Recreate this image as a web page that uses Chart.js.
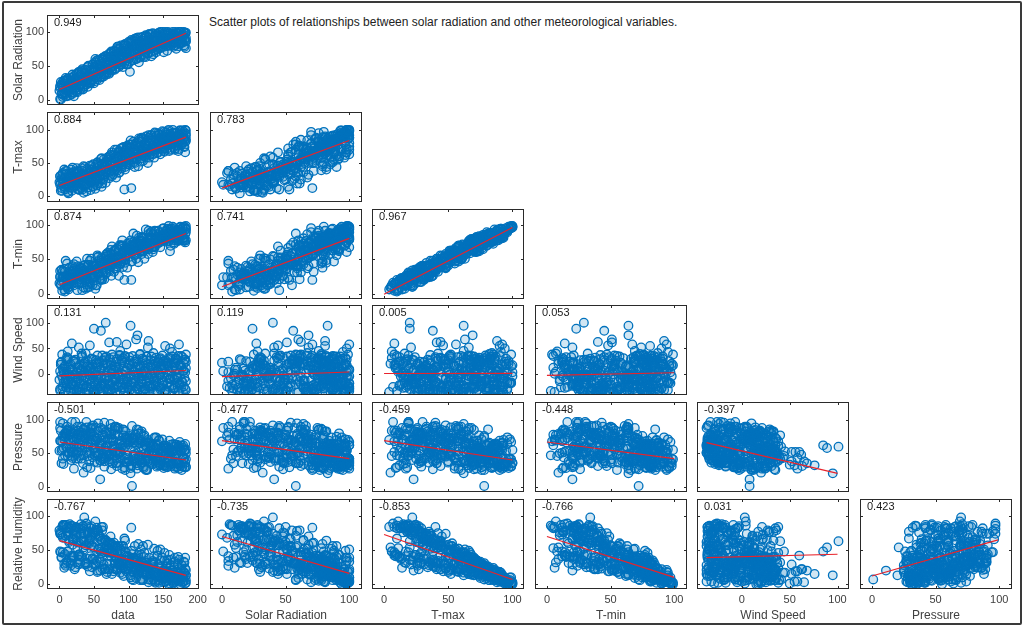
<!DOCTYPE html>
<html>
<head>
<meta charset="utf-8">
<script src="https://cdn.jsdelivr.net/npm/chart.js@4.4.0/dist/chart.umd.min.js"></script>
<style>
  body { margin: 0; background: #fff; width: 1024px; height: 628px; overflow: hidden; position: relative; font-family: "Liberation Sans", Arial, sans-serif; }
  #frame { position: absolute; left: 2px; top: 1px; width: 1020px; height: 624px; box-sizing: border-box; border: 2px solid #3a3a3a; border-radius: 2px; }
  #title { position: absolute; left: 209px; top: 15px; font-size: 12px; color: #222; white-space: nowrap; }
  canvas { position: absolute; }
</style>
</head>
<body>
<div id="frame"></div>
<div id="title">Scatter plots of relationships between solar radiation and other meteorological variables.</div>
<div id="panels"></div>
<script>
// observations (one value per observation, same order in every array)
const obsData = [
  0,1,1,2,3,4,5,5,6,7, 8,8,9,10,11,11,12,13,14,15, 15,16,17,18,18,19,20,21,21,22,
  23,24,25,25,26,27,28,28,29,30, 31,31,32,33,34,35,35,36,37,38, 38,39,40,41,41,42,43,44,45,45,
  46,47,48,48,49,50,51,52,52,53, 54,55,55,56,57,58,58,59,60,61, 61,62,63,64,65,65,66,67,68,68,
  69,70,71,72,72,73,74,75,75,76, 77,78,78,79,80,81,82,82,83,84, 85,85,86,87,88,88,89,90,91,92,
  92,93,94,95,95,96,97,98,98,99, 100,101,102,102,103,104,105,105,106,107, 108,109,109,110,111,112,112,113,114,115,
  115,116,117,118,119,119,120,121,122,122, 123,124,125,126,126,127,128,129,129,130, 131,132,132,133,134,135,136,136,137,138,
  139,139,140,141,142,142,143,144,145,146, 146,147,148,149,149,150,151,152,152,153, 154,155,156,156,157,158,159,159,160,161,
  162,163,163,164,165,166,166,167,168,169, 169,170,171,172,173,173,174,175,176,176, 177,178,179,180,180,181,182,183,183,183,
  2,4,6,9,11,13,16,18,20,23, 25,27,30,32,34,37,39,41,44,46, 48,51,53,55,58,60,62,65,67,69,
  72,74,76,79,81,83,86,88,90,93, 95,97,100,102,104,107,109,111,114,116, 118,121,123,125,128,130,132,135,137,139,
  142,144,146,149,151,153,156,158,160,163, 165,167,170,172,174,177,179,181,182,183,
  1,3,5,7,10,12,14,17,19,21, 24,26,28,31,33,35,38,40,42,45, 47,49,52,54,56,59,61,63,66,68,
  70,73,75,77,80,82,84,87,89,91, 94,96,98,101,103,105,108,110,112,115, 117,119,122,124,126,129,131,133,136,138,
  140,143,145,147,150,152,154,157,159,161, 164,166,168,171,173,175,178,180,182,183, 20,35,50,65,80,95,110,125,140,155,
  12,28,44,60,76,92,108,124,150,170
]
const solarRadiation = [
  13,1,20,0,9,25,4,17,28,10, 24,8,32,15,18,5,28,21,12,6, 15,32,21,8,27,37,18,24,5,29,
  31,17,38,23,11,28,41,20,33,15, 23,37,43,27,15,32,19,40,26,34, 39,23,30,49,19,36,28,44,33,25,
  28,44,35,52,40,24,48,33,43,57, 51,33,46,59,38,29,48,41,56,37, 42,59,50,34,54,45,64,40,51,37,
  59,45,67,51,40,56,64,48,71,43, 49,63,54,71,44,59,67,52,62,78, 68,54,75,59,51,65,80,57,72,48,
  61,76,53,68,82,58,71,64,79,52, 75,61,67,41,83,71,58,79,66,87, 67,81,71,86,60,76,91,68,79,55,
  82,71,78,92,66,81,73,87,63,79, 74,87,63,82,93,77,68,89,81,97, 87,76,83,64,97,79,91,67,86,78,
  79,90,70,87,97,82,76,94,86,100, 92,83,89,78,100,86,70,96,88,81, 84,95,89,72,100,87,92,81,98,85,
  93,82,90,100,78,88,96,85,100,75, 86,97,91,79,100,89,83,94,100,87, 95,84,92,100,80,90,98,87,76,99,
  26,9,21,5,30,14,27,11,33,17, 12,38,20,41,16,44,22,48,26,29, 52,27,55,30,58,34,61,37,64,40,
  38,68,44,72,46,75,48,76,52,80, 82,52,85,56,88,58,90,60,92,62, 64,93,66,95,68,96,70,98,72,97,
  74,99,76,97,78,100,79,98,80,95, 97,80,99,82,100,84,96,78,98,86,
  18,22,7,28,13,31,16,24,10,35, 30,14,40,22,45,19,36,27,50,24, 45,30,60,36,51,42,33,62,48,55,
  62,45,70,50,66,58,78,54,72,60, 72,80,61,76,85,66,79,70,88,74, 86,74,90,70,84,92,78,88,82,94,
  90,80,95,86,92,82,98,88,84,97, 92,86,95,89,97,84,93,99,88,91, 26,30,44,55,62,71,74,84,86,89,
  14,18,35,47,58,65,73,80,85,92
]
const tMax = [
  21,17,30,21,27,8,35,19,24,14, 28,10,33,17,24,38,6,22,30,15, 13,26,40,19,8,31,23,36,17,27,
  34,16,25,42,11,29,21,37,9,26, 19,31,12,38,27,5,33,22,44,16, 30,18,41,24,13,35,28,46,21,9,
  24,40,15,33,48,20,29,11,37,26, 42,27,51,19,36,31,45,23,38,14, 33,48,25,55,40,29,44,20,52,37,
  50,35,58,41,27,47,62,38,53,30, 41,57,33,63,46,52,28,60,44,39, 60,45,68,36,55,50,72,42,58,48,
  52,66,10,61,44,70,56,75,48,63, 68,54,73,47,62,12,78,58,65,51, 59,72,50,76,63,81,55,69,45,67,
  75,61,82,57,70,64,86,53,73,66, 64,79,58,84,70,76,50,68,88,62, 80,67,86,71,92,63,77,84,58,74,
  70,85,74,91,66,80,95,72,83,63, 88,75,92,79,70,85,97,81,67,90, 78,93,86,72,98,83,89,68,94,80,
  91,79,87,100,74,85,95,70,88,82, 83,96,77,89,92,71,86,99,80,90, 94,80,88,75,97,85,66,91,83,99,
  8,33,15,38,24,4,29,12,36,19, 35,10,28,42,17,31,7,39,22,45, 14,44,23,50,30,56,19,48,36,58,
  60,32,66,38,52,70,35,62,45,74, 40,72,48,78,55,82,44,75,60,85, 52,86,60,90,66,58,92,71,64,95,
  65,93,72,98,68,88,76,100,70,91, 96,72,90,68,99,78,93,74,100,86,
  30,12,25,40,17,6,34,22,43,27, 15,38,20,33,10,45,26,18,36,29, 40,22,35,16,48,30,57,25,44,52,
  55,38,62,48,70,41,58,66,50,73, 68,50,76,62,84,56,71,79,64,87, 73,88,62,80,67,92,76,84,70,96,
  85,74,93,80,88,72,96,82,90,78, 88,80,95,76,92,84,99,87,82,94, 25,32,38,50,58,60,66,72,78,81,
  18,24,30,40,52,57,64,70,84,88
]
const tMin = [
  15,24,33,12,35,4,24,24,25,6, 32,3,23,26,21,44,8,10,38,14, 22,24,32,23,14,20,24,43,12,37,
  31,24,16,47,5,40,20,25,16,28, 25,21,15,33,36,9,26,34,42,7, 22,23,51,21,9,42,17,48,30,15,
  35,34,13,41,39,23,35,7,25,31, 37,36,53,31,29,21,49,20,45,20, 40,37,35,51,43,21,43,29,57,31,
  41,41,55,51,35,42,64,26,57,41, 44,49,45,57,53,50,37,50,40,44, 53,55,64,42,44,53,71,50,70,39,
  60,63,20,52,49,64,67,73,38,67, 64,63,63,54,64,20,72,47,70,63, 69,65,56,73,51,85,64,64,46,59,
  73,72,73,62,77,58,82,63,62,69, 70,74,70,76,72,66,58,65,92,71, 71,74,82,81,91,68,65,87,69,68,
  79,79,78,81,77,78,92,79,75,68, 83,83,81,82,80,78,96,87,79,81, 85,84,88,83,95,77,94,77,90,70,
  83,85,91,98,84,73,96,78,83,89, 88,92,86,78,94,79,79,98,90,84, 91,87,78,81,98,77,75,95,78,99,
  14,24,18,48,19,6,17,20,33,30, 28,14,39,32,22,29,16,42,10,51, 23,40,12,56,40,48,21,43,48,55,
  50,40,69,32,63,66,26,69,47,62, 45,61,58,75,47,88,56,69,64,76, 63,81,51,94,74,70,90,61,70,91,
  73,86,77,95,80,79,82,99,62,95, 90,82,86,77,97,85,82,79,97,94,
  25,18,33,36,11,12,29,28,40,34, 21,31,26,37,5,41,32,13,42,24, 35,29,40,12,54,26,52,31,38,58,
  60,33,58,53,64,46,52,71,44,78, 63,55,71,68,78,61,76,74,69,82, 78,83,67,75,72,87,81,79,75,92,
  80,79,89,85,84,77,92,87,86,83, 93,75,91,81,88,89,96,82,87,90, 30,27,43,45,63,55,71,67,83,76,
  13,29,25,45,47,62,59,75,79,93
]
const windSpeed = [
  -12,5,-30,22,-3,38,-25,10,-18,0, 15,-34,-8,27,-20,3,44,-15,8,-28, -5,19,-36,-22,60,-10,6,-31,24,-1,
  28,-17,2,-33,12,-26,52,-9,17,-35, -21,9,33,-4,-29,20,-14,3,-37,40, 7,-24,14,-11,25,-32,-2,56,-19,11,
  -27,30,-7,18,-35,89,-16,4,-23,21, 13,-30,36,-12,-2,23,-36,8,85,-20, -9,26,-33,16,-19,5,-28,101,34,-4,
  20,-14,-35,62,-6,29,-24,10,-31,2, -17,33,6,-29,15,-37,24,-8,63,-22, 9,-26,-3,37,-34,18,-12,27,-1,-30,
  31,-10,22,-36,4,-21,58,-15,12,-27, -6,17,-32,26,95,-24,8,-18,35,-2, 24,-35,3,-13,68,-29,14,76,-8,19,
  -20,11,39,-26,1,-11,30,-33,16,-5, 6,-31,21,-16,34,-3,-25,12,65,-36, -13,27,-1,-28,18,7,-21,41,-9,25,
  14,-23,32,-7,-34,22,3,-17,29,-30, -2,19,-27,36,9,-14,25,-35,13,55, 26,-8,-33,16,-19,31,4,-26,50,-11,
  -24,12,34,-5,23,-30,17,-12,7,30, 10,-18,27,-36,58,2,-22,15,-28,35, -15,33,5,-25,20,-9,28,-32,11,38,
  18,-29,4,-14,33,-36,9,-22,26,-7, -32,12,-19,40,-3,23,-26,6,-11,30, 2,-35,27,-16,11,-24,36,-8,21,-30,
  -21,16,-37,8,-12,29,-4,45,-27,14, 33,-9,-28,19,-17,5,-33,24,-1,38, -14,27,-30,10,52,-23,15,-6,-36,20,
  7,-25,31,-18,24,-34,-2,17,-10,43, -29,21,-8,35,-19,12,-37,28,3,-15,
  -33,24,-9,14,-27,31,-2,-18,8,-36, 21,-12,-30,5,35,-24,-6,17,-35,11, -15,28,-37,-4,19,-29,9,-20,32,-8,
  3,-34,22,-11,-26,13,-1,36,-22,26, -28,7,-16,33,-5,-36,20,-13,29,-31, 16,-19,4,-35,27,-7,-25,34,-14,0,
  -37,25,-3,15,-23,9,-32,21,-10,31, 12,-27,30,-9,-34,18,-17,6,-30,24, -20,14,-32,27,-6,35,-25,3,-15,20,
  29,-36,11,-24,38,-13,-3,-29,17,-7
]
const pressure = [
  54,88,69,68,35,68,76,95,58,71, 80,47,75,59,59,90,46,50,77,71, 58,82,57,97,52,43,74,71,27,80,
  83,49,73,60,78,42,52,59,81,71, 47,75,81,54,76,21,87,70,60,77, 73,52,89,60,79,63,38,52,87,28,
  66,81,44,71,92,58,37,69,57,88, 73,46,72,95,48,60,64,11,62,65, 43,77,78,41,96,30,82,60,54,53,
  79,51,48,48,81,46,94,26,70,72, 35,68,70,61,79,51,53,90,31,51, 76,49,88,50,43,64,59,67,27,74,
  57,85,29,59,83,36,43,47,72,66, 41,74,69,67,20,32,1,72,73,48, 72,46,66,49,35,86,27,32,85,43,
  46,71,46,36,68,83,37,60,57,28, 66,39,68,61,26,25,70,50,38,53, 42,60,62,34,47,64,38,60,47,50,
  58,39,58,30,64,43,37,69,35,39, 32,57,55,54,32,61,28,61,57,32, 50,30,58,57,42,55,53,38,33,63,
  34,51,55,35,54,60,30,63,37,36, 49,35,54,59,27,57,35,31,62,53, 35,46,58,42,42,29,54,56,29,41,
  84,56,34,81,83,70,78,46,59,97, 52,84,78,42,35,73,97,46,71,75, 88,47,69,36,66,88,46,45,81,60,
  37,66,88,39,89,42,36,53,69,77, 66,37,64,76,31,66,70,35,80,39, 80,30,77,25,38,53,65,34,73,42,
  32,70,41,71,31,62,29,55,47,43, 64,27,29,36,67,25,62,55,36,50,
  97,54,42,75,79,84,52,40,81,68, 42,90,69,90,62,47,80,29,76,79, 91,58,51,51,84,39,69,86,44,46,
  72,41,78,56,85,35,87,52,52,61, 42,74,71,38,28,91,52,42,63,65, 65,40,75,50,46,66,36,48,50,74,
  63,56,33,51,45,59,36,44,69,31, 53,45,54,34,61,54,30,43,64,30, 52,85,76,38,90,25,78,41,74,49,
  86,65,81,39,61,86,38,62,49,63
]
const relHumidity = [
  79,48,76,73,39,84,68,47,87,24, 44,86,71,31,82,34,48,72,62,88, 82,27,84,86,42,66,40,74,41,22,
  25,83,62,75,53,82,29,61,44,81, 88,41,40,66,85,54,74,98,62,32, 57,85,30,75,37,77,60,19,82,41,
  85,25,76,37,74,54,76,92,71,30, 34,80,20,78,52,37,70,20,48,84, 64,23,84,29,66,47,64,63,15,56,
  30,62,52,22,61,30,47,48,60,57, 58,19,55,46,34,56,39,38,22,53, 29,56,30,31,52,30,28,31,35,56,
  24,32,67,47,42,30,19,26,40,41, 28,28,33,28,13,83,7,38,18,39, 22,35,38,23,20,24,32,15,59,22,
  30,27,6,43,24,33,6,56,15,30, 26,26,27,18,13,21,58,24,3,39, 23,17,16,31,5,29,25,7,52,14,
  17,17,14,11,49,12,5,26,10,51, 12,16,12,9,39,16,3,22,46,4, 12,9,18,35,6,10,9,43,1,20,
  13,14,6,3,32,17,3,39,10,11, 13,7,15,12,4,36,16,0,22,6, 10,12,10,33,4,16,39,13,13,2,
  47,71,86,27,77,84,31,40,65,81, 72,43,31,63,85,29,89,26,76,56, 38,62,79,18,71,51,79,23,65,18,
  46,70,15,61,22,37,33,17,56,12, 64,35,23,31,49,6,56,9,43,24, 51,6,46,18,15,22,14,34,41,2,
  42,2,35,10,14,19,30,0,36,17, 1,33,18,40,10,28,4,32,1,21,
  74,40,87,30,87,48,64,35,58,78, 84,32,36,74,82,51,30,77,62,69, 57,76,28,83,51,66,45,43,22,49,
  47,60,40,23,30,54,21,37,50,15, 36,48,27,40,10,44,17,25,38,18, 32,8,40,25,32,7,15,22,32,4,
  21,29,6,25,8,35,4,12,15,28, 8,25,5,30,12,19,2,18,23,6, 67,64,36,50,42,22,35,32,14,26,
  77,43,66,33,46,24,38,17,20,7
]

const varNames = ["data", "Solar Radiation", "T-max", "T-min", "Wind Speed", "Pressure", "Relative Humidity"]

// correlation shown in each panel, rows top to bottom
const corrLabels = [
  ["0.949"],
  ["0.884", "0.783"],
  ["0.874", "0.741", "0.967"],
  ["0.131", "0.119", "0.005", "0.053"],
  ["-0.501", "-0.477", "-0.459", "-0.448", "-0.397"],
  ["-0.767", "-0.735", "-0.853", "-0.766", "0.031", "0.423"]
]

// least-squares line ends: [x0, y0, x1, y1]
const fitLines = [
  [[0, 15, 183, 98]],
  [[0, 16, 183, 89], [0, 12, 100, 84]],
  [[0, 13, 183, 88], [0, 10, 100, 81], [0, -1, 100, 97]],
  [[0, -4, 183, 6.5], [0, -5.5, 100, 3.5], [0, 0.5, 100, 0.8], [0, -3, 100, 2]],
  [[0, 67, 183, 40], [0, 69, 100, 42], [0, 69, 100, 40], [0, 67, 100, 42], [-37, 66, 100, 20]],
  [[0, 64, 183, 13], [0, 70, 100, 16], [0, 73, 100, 7], [0, 70, 100, 10], [-37, 39, 100, 44], [0, 12, 99, 65]]
]

// axis limits per variable
const xLimits = [[-18, 202], [-9.4, 110], [-9.4, 109], [-9.4, 110], [-47, 112], [-9.4, 110]]
const yLimits = [null, [-8, 125], [-9, 127], [-8, 124], [-42, 136], [-8, 127], [-7, 125]]
const dataTicks = [0, 50, 100, 150, 200]
const valueTicks = [0, 50, 100]

const series = [obsData, solarRadiation, tMax, tMin, windSpeed, pressure, relHumidity]

const PAD_L = 47, PAD_R = 16, PAD_T = 12, PAD_B = 40
const BOX_W = 152, BOX_H = 90
const INK = "#404040"

Chart.defaults.font.family = '"Liberation Sans", Arial, sans-serif'

// box, inward tick marks and the correlation value
const panelBox = {
  id: "panelBox",
  afterDraw(chart, args, opts) {
    const { ctx, chartArea: a, scales } = chart
    ctx.save()
    ctx.strokeStyle = "#2a2a2a"
    ctx.lineWidth = 1
    ctx.strokeRect(a.left + 0.5, a.top + 0.5, a.width - 1, a.height - 1)
    ctx.beginPath()
    scales.x.ticks.forEach(t => {
      const px = Math.round(scales.x.getPixelForValue(t.value)) + 0.5
      if (px <= a.left + 1 || px >= a.right - 1) return
      ctx.moveTo(px, a.bottom); ctx.lineTo(px, a.bottom - 3)
      ctx.moveTo(px, a.top); ctx.lineTo(px, a.top + 3)
    })
    scales.y.ticks.forEach(t => {
      const py = Math.round(scales.y.getPixelForValue(t.value)) + 0.5
      ctx.moveTo(a.left, py); ctx.lineTo(a.left + 3, py)
      ctx.moveTo(a.right, py); ctx.lineTo(a.right - 3, py)
    })
    ctx.stroke()
    ctx.fillStyle = "#1a1a1a"
    ctx.font = '11px "Liberation Sans", Arial, sans-serif'
    ctx.textBaseline = "middle"
    ctx.fillText(opts.label, a.left + 7, a.top + 8)
    ctx.restore()
  }
}

const host = document.getElementById("panels")

for (let r = 0; r < 6; r++) {
  for (let c = 0; c <= r; c++) {
    const xv = c, yv = r + 1
    const left = Math.round(47 + 162.5 * c)
    const top = Math.round(15 + 96.8 * r)
    const cv = document.createElement("canvas")
    cv.width = PAD_L + BOX_W + PAD_R
    cv.height = PAD_T + BOX_H + PAD_B
    cv.style.left = (left - PAD_L) + "px"
    cv.style.top = (top - PAD_T) + "px"
    host.appendChild(cv)

    const xs = series[xv], ys = series[yv]
    const pts = xs.map((v, i) => ({ x: v, y: ys[i] }))
    const f = fitLines[r][c]
    const xt = xv === 0 ? dataTicks : valueTicks

    new Chart(cv, {
      type: "scatter",
      data: {
        datasets: [
          {
            data: [{ x: f[0], y: f[1] }, { x: f[2], y: f[3] }],
            showLine: true,
            borderColor: "#e8232b",
            borderWidth: 1.2,
            pointRadius: 0,
            order: 0
          },
          {
            data: pts,
            pointRadius: 4.3,
            pointBorderWidth: 1.3,
            pointBorderColor: "#0072bd",
            pointBackgroundColor: "rgba(0,114,189,0.18)",
            order: 1
          }
        ]
      },
      options: {
        responsive: false,
        animation: false,
        devicePixelRatio: 1,
        events: [],
        layout: { padding: { left: 0, right: PAD_R, top: PAD_T, bottom: 0 } },
        plugins: {
          legend: { display: false },
          tooltip: { enabled: false },
          panelBox: { label: corrLabels[r][c] }
        },
        scales: {
          x: {
            type: "linear",
            min: xLimits[xv][0],
            max: xLimits[xv][1],
            afterBuildTicks: s => { s.ticks = xt.map(v => ({ value: v })) },
            afterFit: s => { s.height = PAD_B },
            grid: { display: false, drawTicks: false },
            border: { display: false },
            ticks: { display: r === 5, color: INK, padding: 4, maxRotation: 0, autoSkip: false, font: { size: 11 } },
            title: { display: r === 5, text: varNames[xv], color: INK, font: { size: 12 }, padding: { top: 0, bottom: 6 } }
          },
          y: {
            type: "linear",
            min: yLimits[yv][0],
            max: yLimits[yv][1],
            afterBuildTicks: s => { s.ticks = valueTicks.map(v => ({ value: v })) },
            afterFit: s => { s.width = PAD_L },
            grid: { display: false, drawTicks: false },
            border: { display: false },
            ticks: { display: c === 0, color: INK, padding: 3, font: { size: 11 } },
            title: { display: c === 0, text: varNames[yv], color: INK, font: { size: 12 }, padding: { top: 11, bottom: 0 } }
          }
        }
      },
      plugins: [panelBox]
    })
  }
}
</script>
</body>
</html>
